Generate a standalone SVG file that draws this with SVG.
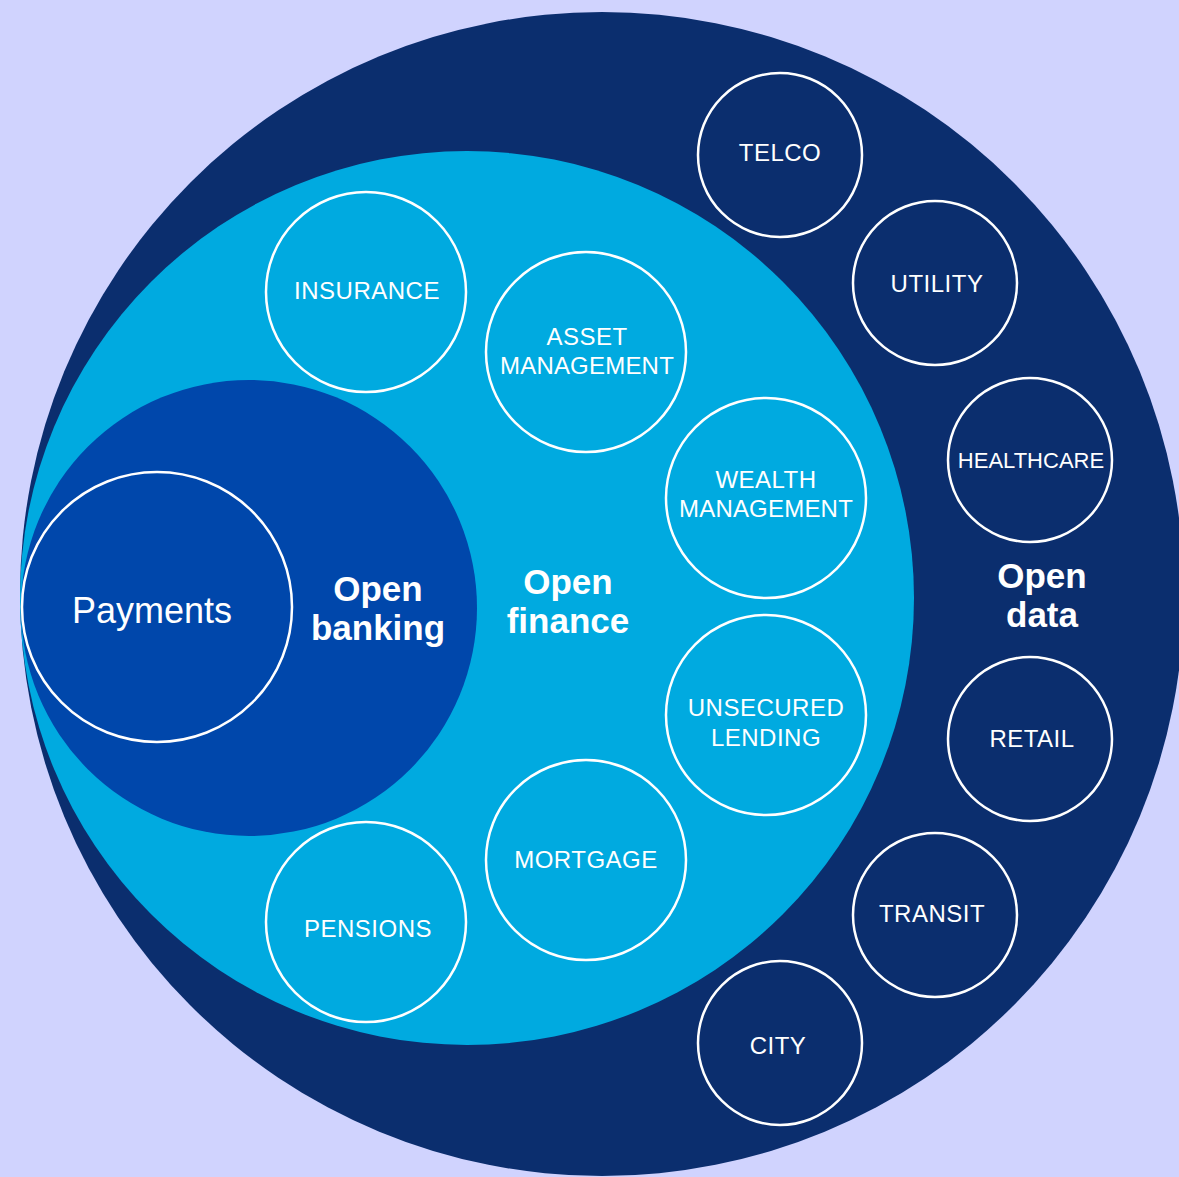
<svg xmlns="http://www.w3.org/2000/svg" width="1179" height="1177" viewBox="0 0 1179 1177">
<style>
.ring{fill:none;stroke:#ffffff;stroke-width:2.5}
.lbl{font-family:"Liberation Sans",Arial,sans-serif;font-size:24px;letter-spacing:0.5px;fill:#ffffff;text-anchor:middle}
.big{font-family:"Liberation Sans",Arial,sans-serif;font-size:35px;font-weight:bold;fill:#ffffff;text-anchor:middle}
.pay{font-family:"Liberation Sans",Arial,sans-serif;font-size:36px;fill:#ffffff;text-anchor:middle}
</style>
<rect x="0" y="0" width="1179" height="1177" fill="#D0D3FE"/>
<g id="open-data">
<circle cx="602" cy="594" r="582" fill="#0B2E6E"/>
<text class="big" x="1042" y="588">Open</text>
<text class="big" x="1042" y="627">data</text>
</g>
<g id="open-finance">
<circle cx="467" cy="598" r="447" fill="#00AAE0"/>
<text class="big" x="568" y="594">Open</text>
<text class="big" x="568" y="633">finance</text>
</g>
<g id="open-banking">
<circle cx="249" cy="608" r="228" fill="#0047AB"/>
<text class="big" x="378" y="601">Open</text>
<text class="big" x="378" y="640">banking</text>
</g>
<g id="payments">
<circle class="ring" cx="157" cy="607" r="135"/>
<text class="pay" x="152" y="623">Payments</text>
</g>
<g id="insurance"><circle class="ring" cx="366" cy="292" r="100"/><text class="lbl" x="367" y="299">INSURANCE</text></g>
<g id="asset-management"><circle class="ring" cx="586" cy="352" r="100"/><text class="lbl" x="587" y="345">ASSET</text><text class="lbl" x="587" y="374" style="letter-spacing:0.2px">MANAGEMENT</text></g>
<g id="wealth-management"><circle class="ring" cx="766" cy="498" r="100"/><text class="lbl" x="766" y="488">WEALTH</text><text class="lbl" x="766" y="517" style="letter-spacing:0.2px">MANAGEMENT</text></g>
<g id="unsecured-lending"><circle class="ring" cx="766" cy="715" r="100"/><text class="lbl" x="766" y="716">UNSECURED</text><text class="lbl" x="766" y="746">LENDING</text></g>
<g id="mortgage"><circle class="ring" cx="586" cy="860" r="100"/><text class="lbl" x="586" y="868">MORTGAGE</text></g>
<g id="pensions"><circle class="ring" cx="366" cy="922" r="100"/><text class="lbl" x="368" y="937">PENSIONS</text></g>
<g id="telco"><circle class="ring" cx="780" cy="155" r="82"/><text class="lbl" x="780" y="161">TELCO</text></g>
<g id="utility"><circle class="ring" cx="935" cy="283" r="82"/><text class="lbl" x="937" y="292">UTILITY</text></g>
<g id="healthcare"><circle class="ring" cx="1030" cy="460" r="82"/><text class="lbl" x="1031" y="468" style="font-size:22px;letter-spacing:0px">HEALTHCARE</text></g>
<g id="retail"><circle class="ring" cx="1030" cy="739" r="82"/><text class="lbl" x="1032" y="747">RETAIL</text></g>
<g id="transit"><circle class="ring" cx="935" cy="915" r="82"/><text class="lbl" x="932" y="922">TRANSIT</text></g>
<g id="city"><circle class="ring" cx="780" cy="1043" r="82"/><text class="lbl" x="778" y="1054">CITY</text></g>
<g id="connectors"></g>
</svg>
